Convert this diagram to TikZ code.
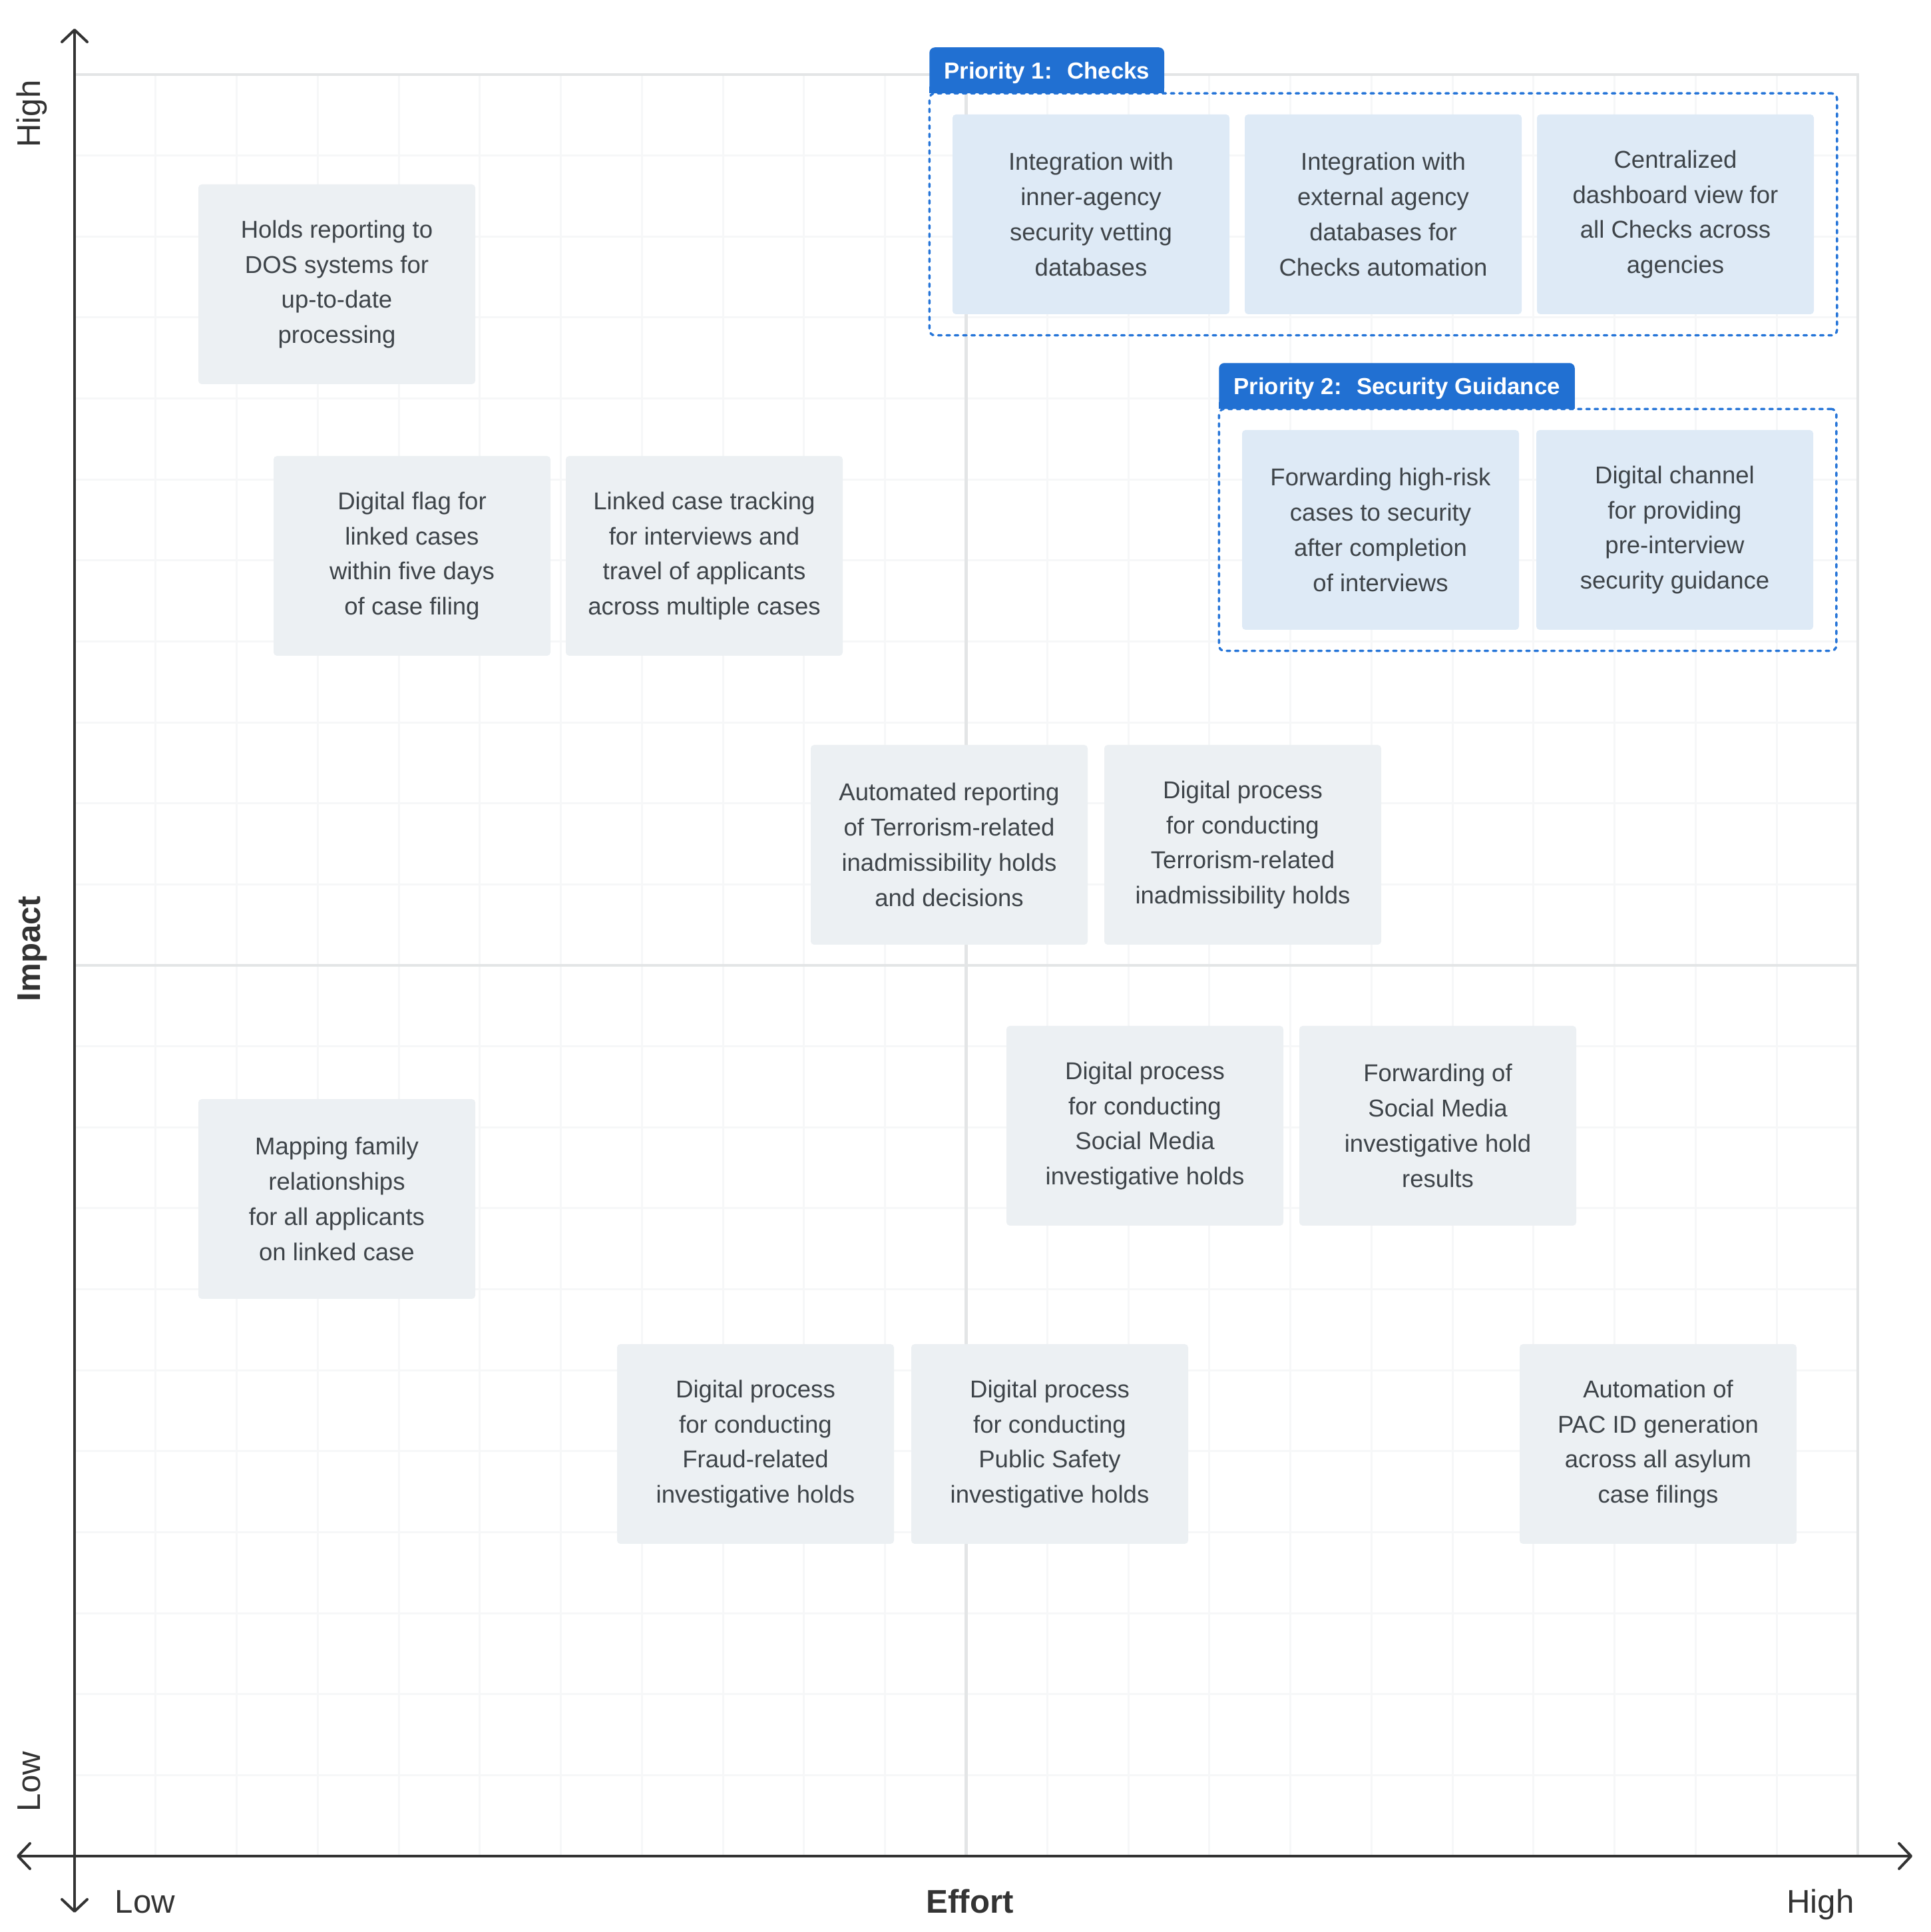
\documentclass[tikz,border=0pt]{standalone}
\usepackage{fontspec}
\setmainfont{Liberation Sans}
\usepackage{tikz}
\usetikzlibrary{arrows.meta, fit, positioning}
\usepackage{xcolor}
\definecolor{boxgray}{RGB}{236, 240, 243}
\definecolor{boxblue}{RGB}{222, 234, 246}
\definecolor{prioblue}{RGB}{33, 112, 210}
\definecolor{frameblue}{RGB}{38, 117, 216}
\definecolor{inktext}{RGB}{62, 68, 73}
\definecolor{axisdark}{RGB}{51, 51, 51}
\definecolor{gridmajor}{RGB}{227, 229, 230}
\definecolor{gridminor}{RGB}{246, 247, 248}
\tikzstyle{axisline}=[line width=0.04cm, color=axisdark, {Straight Barb[length=0.18cm, width=0.38cm, round]}-{Straight Barb[length=0.18cm, width=0.38cm, round]}]
\tikzstyle{minorline}=[line width=0.03cm, color=gridminor]
\tikzstyle{majorline}=[line width=0.045cm, color=gridmajor]
\tikzstyle{idea}=[shape=rectangle, fill=boxgray, rounded corners=0.05cm, minimum width=4.16cm, minimum height=3.00cm, align=center, text=inktext, font=\fontsize{10.4}{15}\selectfont]
\tikzstyle{checkbox}=[idea, fill=boxblue]
\tikzstyle{prioframe}=[shape=rectangle, draw=frameblue, line width=0.035cm, dash pattern=on 0.05cm off 0.075cm, line cap=round, rounded corners=0.08cm, inner xsep=0.34cm, inner ysep=0.31cm, outer sep=0pt]
\tikzstyle{priotab}=[shape=rectangle, fill=prioblue, text=white, rounded corners=0.08cm, inner xsep=0.22cm, minimum height=0.69cm, text depth=0pt, outer sep=0pt, anchor=south west, font=\bfseries\fontsize{9.9}{12}\selectfont]
\tikzstyle{axislabel}=[text=axisdark, font=\fontsize{14}{16}\selectfont]

\begin{document}
\begin{tikzpicture}
    \useasboundingbox (0,0) rectangle (29.00,29.02);

    % Grid
    \foreach \i in {1,...,21} {
        \draw[minorline] ({1.12+\i*1.2177},1.14) -- ({1.12+\i*1.2177},27.90);
        \draw[minorline] (1.12,{1.14+\i*1.2164}) -- (27.91,{1.14+\i*1.2164});
    }
    \draw[majorline] (1.12,27.90) -- (27.91,27.90) -- (27.91,1.14);
    \draw[majorline] (14.515,1.14) -- (14.515,27.90);
    \draw[majorline] (1.12,14.52) -- (27.91,14.52);

    % Axes
    \coordinate (ybot) at (1.12,0.29);
    \coordinate (ytop) at (1.12,28.59);
    \coordinate (xleft) at (0.25,1.14);
    \coordinate (xright) at (28.73,1.14);
    \draw[axisline] (ybot) -- (ytop);
    \draw[axisline] (xleft) -- (xright);

    \node[axislabel, rotate=90, anchor=base] (yhigh) at (0.60,27.31) {High};
    \node[axislabel, rotate=90, anchor=base, font=\bfseries\fontsize{14}{16}\selectfont] (yname) at (0.60,14.77) {Impact};
    \node[axislabel, rotate=90, anchor=base] (ylow) at (0.60,2.26) {Low};
    \node[axislabel, anchor=base] (xlow) at (2.18,0.29) {Low};
    \node[axislabel, anchor=base, font=\bfseries\fontsize{14}{16}\selectfont] (xname) at (14.57,0.29) {Effort};
    \node[axislabel, anchor=base] (xhigh) at (27.35,0.29) {High};

    % Priority 1 boxes
    \node[checkbox] (b11) at (16.39,25.80) {Integration with\\inner-agency\\security vetting\\databases};
    \node[checkbox] (b12) at (20.78,25.80) {Integration with\\external agency\\databases for\\Checks automation};
    \node[checkbox] (b13) at (25.17,25.80) {Centralized\\dashboard view for\\all Checks across\\agencies};

    % Priority 2 boxes
    \node[checkbox] (b21) at (20.74,21.06) {Forwarding high-risk\\cases to security\\after completion\\of interviews};
    \node[checkbox] (b22) at (25.16,21.06) {Digital channel\\for providing\\pre-interview\\security guidance};

    % Other ideas
    \node[idea] (holds) at (5.06,24.75) {Holds reporting to\\DOS systems for\\up-to-date\\processing};
    \node[idea] (flag) at (6.19,20.67) {Digital flag for\\linked cases\\within five days\\of case filing};
    \node[idea] (linked) at (10.58,20.67) {Linked case tracking\\for interviews and\\travel of applicants\\across multiple cases};
    \node[idea] (autorep) at (14.26,16.33) {Automated reporting\\of Terrorism-related\\inadmissibility holds\\and decisions};
    \node[idea] (terror) at (18.67,16.33) {Digital process\\for conducting\\Terrorism-related\\inadmissibility holds};
    \node[idea] (social) at (17.20,12.11) {Digital process\\for conducting\\Social Media\\investigative holds};
    \node[idea] (fwdsocial) at (21.60,12.11) {Forwarding of\\Social Media\\investigative hold\\results};
    \node[idea] (mapping) at (5.06,11.01) {Mapping family\\relationships\\for all applicants\\on linked case};
    \node[idea] (fraud) at (11.35,7.33) {Digital process\\for conducting\\Fraud-related\\investigative holds};
    \node[idea] (safety) at (15.77,7.33) {Digital process\\for conducting\\Public Safety\\investigative holds};
    \node[idea] (pacid) at (24.91,7.33) {Automation of\\PAC ID generation\\across all asylum\\case filings};

    % Priority frames and tabs
    \node[prioframe, fit=(b11)(b13)] (p1frame) {};
    \node[prioframe, fit=(b21)(b22)] (p2frame) {};
    \node[priotab] (p1tab) at (p1frame.north west) {Priority 1:~ Checks};
    \node[priotab] (p2tab) at (p2frame.north west) {Priority 2:~ Security Guidance};
    \fill[prioblue] (p1tab.south west) rectangle ++(0.1,0.1);
    \fill[prioblue] (p1tab.south east) rectangle ++(-0.1,0.1);
    \fill[prioblue] (p2tab.south west) rectangle ++(0.1,0.1);
    \fill[prioblue] (p2tab.south east) rectangle ++(-0.1,0.1);

\end{tikzpicture}
\end{document}
